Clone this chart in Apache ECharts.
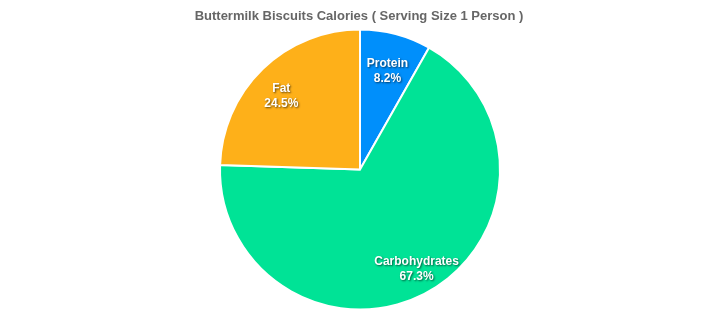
<!DOCTYPE html>
<html><head><meta charset="utf-8">
<script src="https://cdn.jsdelivr.net/npm/echarts@6/dist/echarts.min.js"></script>
<style>html,body{margin:0;padding:0;background:#fff}#c{width:718px;height:323px}</style>
</head><body><div id="c"></div>
<script>
const categories = ['Protein', 'Carbohydrates', 'Fat'];
const values = [8.2, 67.3, 24.5];
const colors = ['#008FFB', '#00E396', '#FEB019'];
const titleText = 'Buttermilk Biscuits Calories ( Serving Size 1 Person )';
// label ring inner radius and vertical nudge per slice
const labelInner = [70, 85, 80];
const labelNudge = [6, -1, 8];

const center = [360, 169.5];
const R = 140;
const data = categories.map((n, i) => ({ name: n, value: values[i], itemStyle: { color: colors[i] } }));
const labelSeries = categories.map((_, k) => ({
  type: 'pie', center: [center[0], center[1] + labelNudge[k]], radius: [labelInner[k], R], startAngle: 90, clockwise: true, silent: true,
  itemStyle: { color: 'rgba(0,0,0,0)' },
  label: { show: true, position: 'inside',
    formatter: p => p.dataIndex === k ? p.name + '\n' + p.value.toFixed(1) + '%' : '',
    color: '#fff', fontFamily: 'Arial, Liberation Sans', fontSize: 12, fontWeight: 'bold', lineHeight: 15,
    textShadowColor: 'rgba(0,0,0,0.6)', textShadowBlur: 2, textShadowOffsetX: 1, textShadowOffsetY: 1 },
  labelLine: { show: false },
  data: categories.map((n, i) => ({ name: n, value: values[i] }))
}));
const chart = echarts.init(document.getElementById('c'));
chart.setOption({
  animation: false,
  title: { text: titleText, left: 'center', top: 5, textStyle: { fontFamily: 'Arial, Liberation Sans', fontSize: 13, fontWeight: 'bold', color: '#666' } },
  series: [
    { type: 'pie', center: center, radius: [0, R], startAngle: 90, clockwise: true,
      label: { show: false }, labelLine: { show: false },
      itemStyle: { borderColor: '#fff', borderWidth: 2 }, data: data, silent: true }
  ].concat(labelSeries)
});
</script></body></html>
